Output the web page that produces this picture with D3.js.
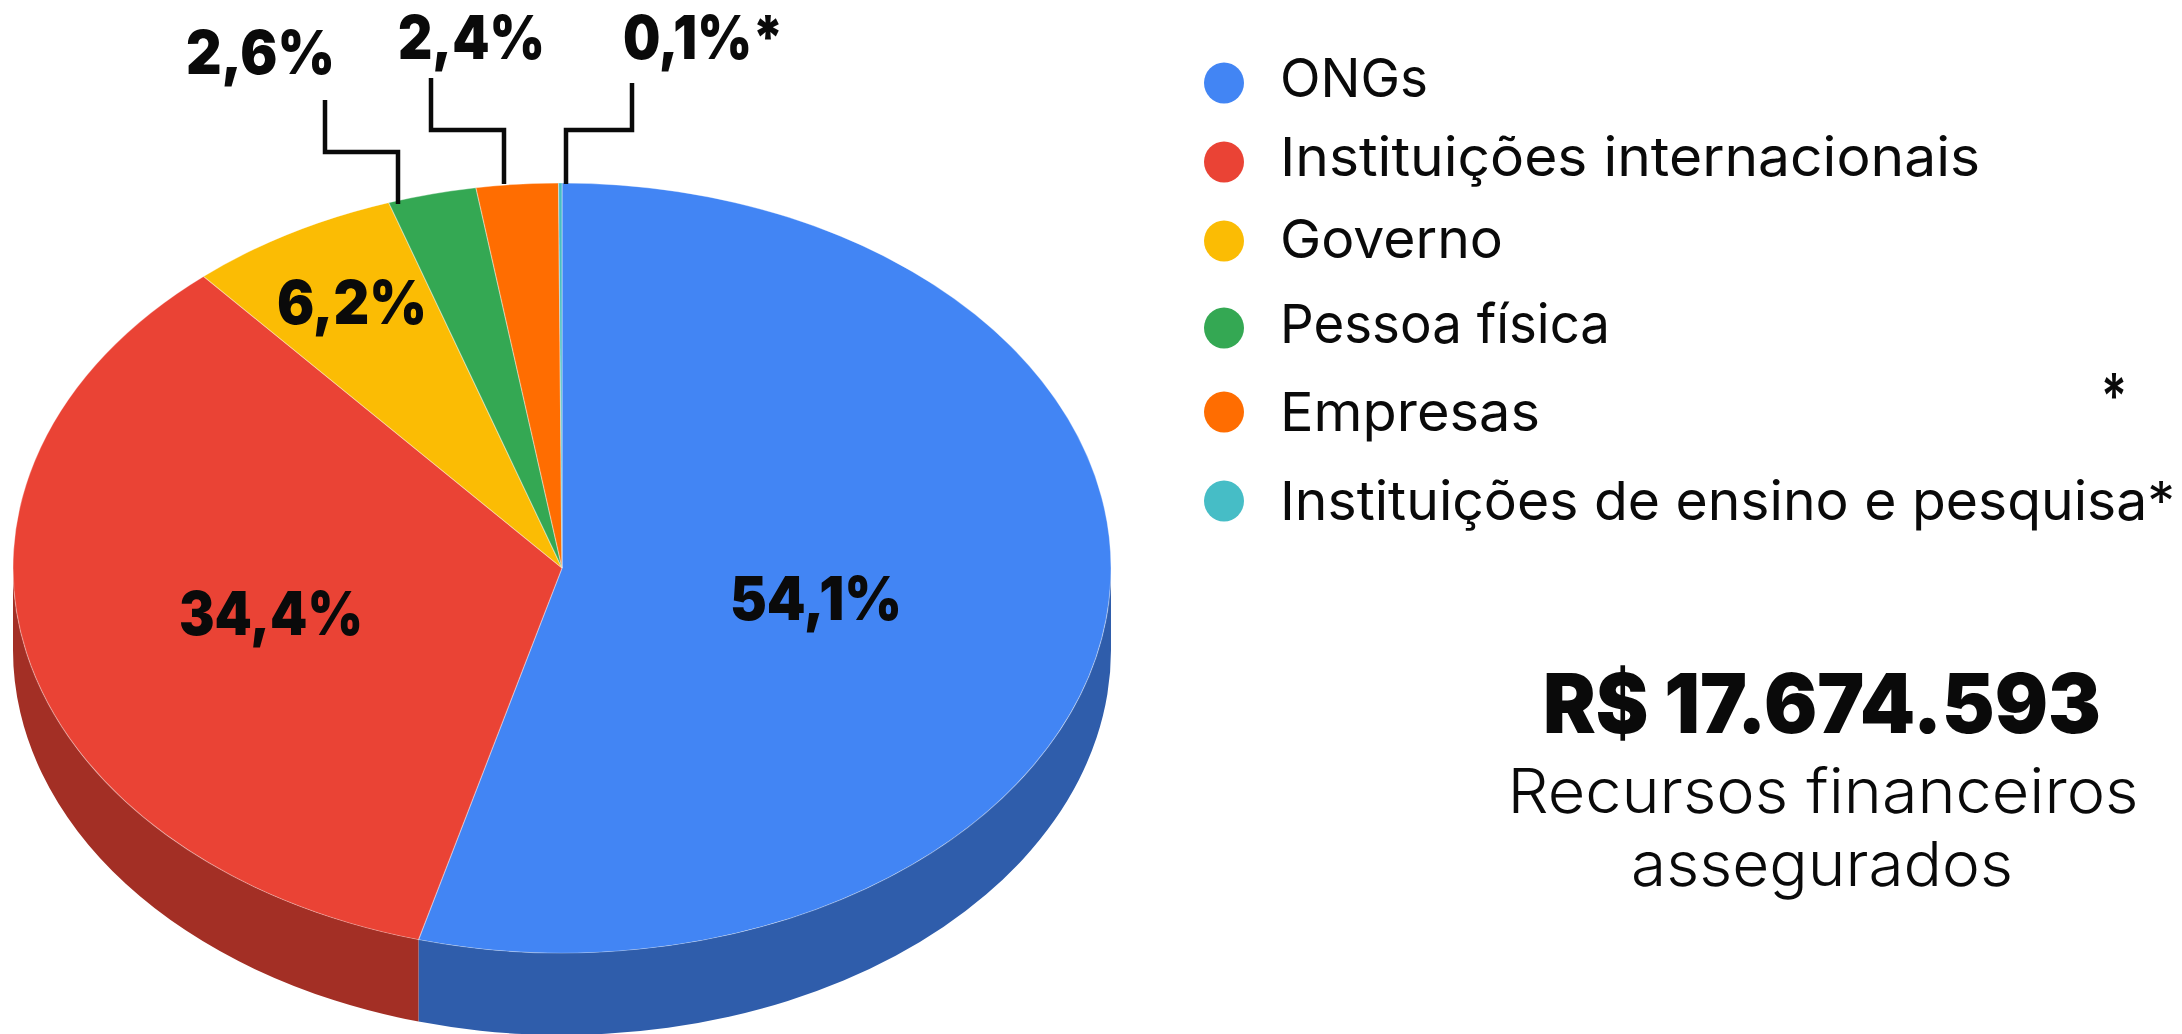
<!DOCTYPE html>
<html>
<head>
<meta charset="utf-8">
<script src="https://cdn.jsdelivr.net/npm/d3@7"></script>
<style>
  html, body { margin: 0; padding: 0; background: #fff; overflow: hidden; }
  text { font-family: Inter, sans-serif; fill: #0a0a0a; }
</style>
</head>
<body>
<script>
// values
var categories = ["ONGs", "Instituições internacionais", "Governo", "Pessoa física", "Empresas", "Instituições de ensino e pesquisa"];
var values = [54.1, 34.4, 6.2, 2.6, 2.4, 0.1];
var valueLabels = ["54,1%", "34,4%", "6,2%", "2,6%", "2,4%", "0,1%*"];
var legendLabels = ["ONGs", "Instituições internacionais", "Governo", "Pessoa física", "Empresas", "Instituições de ensino e pesquisa*"];
var colors = ["#4285f4", "#ea4335", "#fbbc04", "#34a853", "#ff6d01", "#46bdc6"];
var sideColors = ["#2f5dab", "#a32f25", "#b08403", "#24763a", "#b34c01", "#31848b"];
var totalLabel = "R$ 17.674.593";
var captionLines = ["Recursos financeiros", "assegurados"];

var width = 2182, height = 1034;
var cx = 562, cy = 568, rx = 549, ry = 385, depth = 82;

var svg = d3.select("body").append("svg")
    .attr("width", width)
    .attr("height", height);

var color = d3.scaleOrdinal().domain(categories).range(colors);
var sideColor = d3.scaleOrdinal().domain(categories).range(sideColors);

var pie = d3.pie().sort(null).value(function(d) { return d.value; });
var slices = pie(categories.map(function(c, i) { return {name: c, value: values[i]}; }));

// point on the rim, angle clockwise from the top like d3.arc
function rim(a, dy) {
  return [cx + rx * Math.sin(a), cy - ry * Math.cos(a) + (dy || 0)];
}

// the side wall only shows on the lower half of the ellipse
function wall(d) {
  var a0 = Math.max(d.startAngle, Math.PI / 2);
  var a1 = Math.min(d.endAngle, 3 * Math.PI / 2);
  if (a1 <= a0) return null;
  var big = a1 - a0 > Math.PI ? 1 : 0;
  var p0 = rim(a0), p1 = rim(a1), p2 = rim(a1, depth), p3 = rim(a0, depth);
  return "M" + p0 + "A" + rx + "," + ry + " 0 " + big + " 1 " + p1 +
    "L" + p2 + "A" + rx + "," + ry + " 0 " + big + " 0 " + p3 + "Z";
}

svg.append("g").selectAll("path")
    .data(slices.filter(wall))
  .enter().append("path")
    .attr("d", wall)
    .attr("fill", function(d) { return sideColor(d.data.name); });

var arc = d3.arc().innerRadius(0).outerRadius(rx);

svg.append("g")
    .attr("transform", "translate(" + cx + "," + cy + ") scale(1," + (ry / rx) + ")")
  .selectAll("path")
    .data(slices)
  .enter().append("path")
    .attr("d", arc)
    .attr("fill", function(d) { return color(d.data.name); })
    .attr("stroke", "#fff")
    .attr("stroke-opacity", 0.35)
    .attr("stroke-width", 1.2);

// fit a text to the width it has in the picture
function label(t, x, y, w, size, weight, anchor) {
  return svg.append("text")
      .attr("x", x)
      .attr("y", y)
      .attr("font-size", size)
      .attr("font-weight", weight)
      .attr("text-anchor", anchor || "start")
      .attr("textLength", w)
      .attr("lengthAdjust", "spacingAndGlyphs")
      .text(t);
}

// value labels, same order as values
var labelPos = [[730, 620, 172], [179, 635, 184], [277, 324, 150], [186, 74, 149], [398, 59, 147], [623, 59, 161]];
valueLabels.forEach(function(t, i) {
  label(t, labelPos[i][0], labelPos[i][1], labelPos[i][2], 60, 900);
});

// elbow leaders for the three thin slices
var leaders = [
  [[398, 204], [398, 152], [325, 152], [325, 100]],
  [[504, 184], [504, 130], [431, 130], [431, 78]],
  [[566, 184], [566, 130], [632, 130], [632, 83]]
];
svg.append("g").selectAll("path")
    .data(leaders)
  .enter().append("path")
    .attr("d", d3.line())
    .attr("fill", "none")
    .attr("stroke", "#0a0a0a")
    .attr("stroke-width", 4.5);

// legend
var legendY = [83, 162, 241, 328, 412, 501];
var legendBase = [97, 176, 258, 343, 431, 520];
var legendW = [148, 700, 223, 330, 260, 895];

svg.append("g").selectAll("ellipse")
    .data(categories)
  .enter().append("ellipse")
    .attr("cx", 1224)
    .attr("cy", function(d, i) { return legendY[i]; })
    .attr("rx", 20)
    .attr("ry", 20.5)
    .attr("fill", function(d) { return color(d); });

legendLabels.forEach(function(t, i) {
  label(t, 1280, legendBase[i], legendW[i], 54, 400);
});

// stray asterisk next to Empresas
label("*", 2114, 418, 26, 62, 600, "middle");

label(totalLabel, 1822, 733, 558, 82, 900, "middle");
label(captionLines[0], 1823, 813, 631, 62, 300, "middle");
label(captionLines[1], 1822, 886, 382, 62, 300, "middle");
</script>
</body>
</html>
